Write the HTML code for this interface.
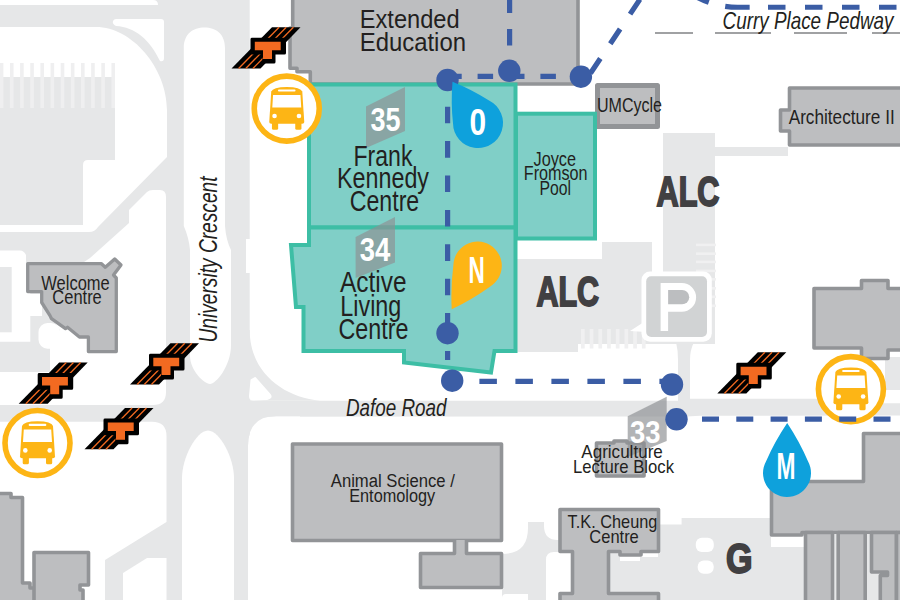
<!DOCTYPE html>
<html><head><meta charset="utf-8"><style>
html,body{margin:0;padding:0;background:#fff;width:900px;height:600px;overflow:hidden}
svg{display:block}
text{font-family:"Liberation Sans", sans-serif}
</style></head><body>
<svg width="900" height="600" viewBox="0 0 900 600">
<rect width="900" height="600" fill="#fff"/>
<g fill="#e6e7e8">
<rect x="0" y="0" width="250" height="600"/>
<path d="M249,400.7 L687,400.7 L687,398.7 L850,398.7 L852,403.3 L900,403.3 L900,415.4 L700,415.8 L687,416.5 L249,416.8 Z"/>
<rect x="885" y="357" width="15" height="33"/>
<path d="M517,259 L602,259 L602,242 L652,242 L652,272 L663,272 L663,133 L715,133 L715,344 L578,344 L578,352 L517,352 Z"/>
<rect x="715" y="147" width="73" height="9"/>
<path d="M676,342 L694,342 Q690,350 690,360 L690,401 L678,401 L678,360 Q678,350 676,342 Z"/>
<path d="M660,524.6 L681.6,524.6 L681.6,518 L771,518 L771,547 L805,547 L805,600 L660,600 Z"/>
<rect x="805" y="535" width="95" height="65"/>
<rect x="502" y="522" width="58" height="78"/>
<rect x="600" y="552" width="62" height="48"/>
</g>
<g fill="#fff">
<path d="M0,0 L153,0 Q158,0 158,5 L0,5 Z"/>
<path d="M0,27 L96,27 C132,27 167,68 167,110 L167,157 L98,227 Q95,232 89,232 L0,232 Z"/>
<path d="M116,19 L161,19 Q164,19 164,22 L164,58 Q164,62 160,61 C150,40 135,27 116,26 Q112,24 113,21 Q114,19 116,19 Z"/>
<path d="M183.8,48 C183.8,34 193,27.5 204.4,27.5 C216,27.5 225,34 225,48 L225,226 Q226,240 231,250 L231,345 C231,366 216,384 210,384 C204,384 190,370 190,356 L190,250 Q189,238 183.8,226 Z"/>
<path d="M41,262 L84,262 L90,258 L129,223 L129,210 L147,192 Q149,190 153,190 L160,190 Q166,190 166,197 L166,392 Q166,405 153,405 L0,405 L0,372 L50,372 L50,341.7 L60,330 L50,316 L41,300 Z"/>
<rect x="30" y="294" width="12" height="22"/>
<rect x="38.5" y="323" width="21.5" height="25.7" rx="9"/>
<rect x="246" y="239" width="4.5" height="34"/>
<path d="M0,250.5 L20,250.5 Q24,250.5 26,255 L26,267 L30.3,267 L30.3,341.7 L0,341.7 Z"/>
<rect x="249.7" y="0" width="60" height="400"/>
<path d="M0,421.7 L152,421.7 Q166.5,421.7 166.5,436 L166.5,522 L105,560 L105,600 L0,600 Z"/>
<path d="M123,573 L147,558 L166.5,558 L166.5,600 L123,600 Z"/>
<path d="M182,600 L182,478 C182,458 196,431 208,430.5 C220,431 234,458 234,478 L234,600 Z"/>
<path d="M248,600 L248,446 Q248,416.5 276,416.5 L300,416.5 L300,600 Z"/>
</g>
<g fill="#e6e7e8">
<path d="M245,330 L249.7,330 C249.7,372 283,397 320,400.7 L245,400.7 Z"/>
<path d="M246,416 L276,416 Q248,416.5 248,446 L246,446 Z"/>
<rect x="0" y="267" width="11.7" height="65.3"/>
</g>
<path d="M251.5,380 L255,378 L270,395 Q272,398 267,399 L253,399.5 Q250,399.5 250,396 Z" fill="#fff" stroke="#fff" stroke-width="2" stroke-linejoin="round"/>
<g fill="#e6e7e8">
<rect x="0" y="77" width="115" height="80"/>
<path d="M0,157 L115,157 L115,160 L88,160 Q83,160 83,165 L83,225 L0,225 Z"/>
</g>
<g fill="#efeff0"><rect x="-0.20" y="63" width="3.6" height="45"/><rect x="9.95" y="63" width="3.6" height="45"/><rect x="20.10" y="63" width="3.6" height="45"/><rect x="30.25" y="63" width="3.6" height="45"/><rect x="40.40" y="63" width="3.6" height="45"/><rect x="50.55" y="63" width="3.6" height="45"/><rect x="60.70" y="63" width="3.6" height="45"/><rect x="70.85" y="63" width="3.6" height="45"/><rect x="81.00" y="63" width="3.6" height="45"/><rect x="91.15" y="63" width="3.6" height="45"/><rect x="101.30" y="63" width="3.6" height="45"/><rect x="111.45" y="63" width="3.6" height="45"/></g>
<g fill="#fff">
<rect x="695.8" y="537.8" width="18" height="14.2" rx="6"/>
<rect x="697.7" y="560.5" width="16" height="13.2" rx="6"/>
<rect x="640" y="552" width="18" height="5"/>
<rect x="620" y="553" width="20" height="8"/>
<path d="M502,505 L528,505 L528,528 Q528,554 502,554 Z"/>
<path d="M544,505 L544,526 Q544,540 558,540 L560,540 L560,505 Z"/>
<path d="M546,600 L546,560 Q546,552 554,552 L560,552 L560,600 Z"/>
<path d="M502,600 L502,598 Q502,594 506,594 L528,594 L528,600 Z"/>
</g>
<g fill="#f0f0f1">
<rect x="696" y="243.6" width="20" height="2.6"/>
<rect x="696" y="252.4" width="20" height="2.6"/>
<rect x="696" y="260.6" width="20" height="2.6"/>
<rect x="696" y="269.6" width="20" height="2.6"/>
<rect x="696" y="278" width="20" height="2.6"/>
<rect x="696" y="287" width="20" height="2.6"/>
<rect x="696" y="295.5" width="20" height="2.6"/>
<rect x="696" y="304.5" width="20" height="2.6"/>
<rect x="581.0" y="329" width="3.7" height="19.5"/>
<rect x="589.7" y="329" width="3.7" height="19.5"/>
<rect x="598.4" y="329" width="3.7" height="19.5"/>
<rect x="607.1" y="329" width="3.7" height="19.5"/>
<rect x="615.8" y="329" width="3.7" height="19.5"/>
<rect x="624.5" y="329" width="3.7" height="19.5"/>
<rect x="633.2" y="329" width="3.7" height="19.5"/>
<rect x="641.9" y="329" width="3.7" height="19.5"/>
</g>
<path d="M630,331 L644,322 L646,332 Z" fill="#fff"/>
<g fill="#bdbec0" stroke="#929497" stroke-width="3.6" stroke-linejoin="round">
<path d="M292.7,-5 L292.7,28 L290,28 L290,68.3 L297,68.3 L297,71.8 L310.3,71.8 L310.3,84 L578,84 L578,-5 Z"/>
<rect x="597.5" y="85.5" width="60" height="41" stroke-width="5"/>
<path d="M789.5,88 L905,88 L905,145 L789.5,145 L789.5,131 L780.5,131 L780.5,110 L789.5,110 Z"/>
<path d="M27.7,263.7 L101.5,263.7 L105.3,267.3 L114.7,259 L121,265 L113.5,275 L116.3,278 L116.3,351.6 L88.4,351.6 L88.4,337 L79.4,337 L67.5,327.3 L65.5,328.6 L51.5,318.7 L50,315.6 L41.7,302.5 L41.7,291.6 L27.7,291.6 Z" stroke-width="3.3"/>
<path d="M814,288.5 L861.5,288.5 L861.5,280.5 L888,280.5 L888,288.5 L905,288.5 L905,350 L888,350 L888,358.5 L861.5,358.5 L861.5,348 L814,348 Z"/>
<path d="M863.5,433.5 L905,433.5 L905,532.5 L802,532.5 L802,535 L771.5,535 L771.5,481.5 L863.5,481.5 Z"/>
<rect x="292.5" y="444" width="209" height="96.5"/>
<path d="M454.5,540 L454.5,553.5 L420.5,553.5 L420.5,587.5 L501.5,587.5 L501.5,553.5 L466.5,553.5 L466.5,540"/>
<path d="M596.5,443 L614,443 L614,441 L627,441 L627,443 L644,443 L644,476 L596.5,476 Z"/>
<path d="M560,509.5 L658.5,509.5 L658.5,551.5 L641,551.5 L641,555 L620,555 L620,551.5 L608.5,551.5 L608.5,593.5 L658.5,593.5 L658.5,605 L560,605 L560,593.5 L572.5,593.5 L572.5,551.5 L560,551.5 Z"/>
<path d="M-5,493.5 L11,493.5 L11,497.5 L22.5,497.5 L22.5,583 L30,583 L30,588 L35,588 L35,605 L-5,605 Z"/>
<path d="M34,552.5 L88.5,552.5 L88.5,585 L80,585 L80,590 L83,590 L83,605 L34,605 Z"/>
<rect x="805.5" y="532.5" width="27" height="72"/>
<rect x="838.2" y="532.5" width="27" height="72"/>
<path d="M871.5,532.5 L871.5,572 L887.5,572 L887.5,575.5 L880.3,575.5 L880.3,605 L896.5,605 L896.5,532.5 Z"/>
<rect x="896.5" y="532.5" width="10" height="72"/>
</g>
<g fill="#80cfc7" stroke="#3dbea5" stroke-width="4" stroke-linejoin="miter">
<path d="M309,84.5 L515.5,84.5 L515.5,227.5 L309,227.5 Z"/>
<path d="M309,227.5 L515.5,227.5 L515.5,351 L494.5,351 L491,372.5 L404,362.5 L404,351 L303.5,351 L303.5,307 L296,307 L291,245 L309,245 Z"/>
<rect x="516" y="113.7" width="79" height="124.8"/>
</g>
<rect x="641.5" y="271.5" width="70.3" height="70.3" rx="8.5" fill="#fff"/>
<rect x="646.2" y="276.2" width="60.8" height="60.8" rx="5" fill="#d1d3d4"/>
<path d="M660.6,283 L681.7,283 A14.4,14.4 0 0 1 681.7,311.8 L668.1,311.8 L668.1,331 L660.6,331 Z" fill="#fff"/>
<path d="M668.1,290 L682.1,290 A7.15,7.15 0 0 1 682.1,304.3 L668.1,304.3 Z" fill="#bcbec0"/>
<polygon points="366,106.5 405,87 405,131 366,148" fill="#8e9093" fill-opacity="0.68"/><text x="370.5" y="131.25" font-size="33.72" font-weight="bold" font-style="normal" fill="#fff" text-anchor="start" textLength="30" lengthAdjust="spacingAndGlyphs">35</text>
<polygon points="355.6,237 395,217 395,262.5 355.6,278" fill="#8e9093" fill-opacity="0.68"/><text x="359.8" y="261.25" font-size="33.72" font-weight="bold" font-style="normal" fill="#fff" text-anchor="start" textLength="30.5" lengthAdjust="spacingAndGlyphs">34</text>
<polygon points="627.7,416.3 666.7,396.7 666.7,441 627.7,457" fill="#8e9093" fill-opacity="0.68"/><text x="629.9" y="442.5" font-size="31.10" font-weight="bold" font-style="normal" fill="#fff" text-anchor="start" textLength="30.5" lengthAdjust="spacingAndGlyphs">33</text>
<g transform="translate(286.75,108.6)"><circle r="32.5" fill="#fff" stroke="#fdb515" stroke-width="5.6"/><path d="M-15.5,-17 Q-14,-21.7 0,-21.7 Q14,-21.7 15.5,-17 L17.5,13.5 Q17.5,15.2 15.5,15.2 L-15.5,15.2 Q-17.5,15.2 -17.5,13.5 Z" fill="#fdb515"/><path d="M-13.7,-13.6 L13.7,-13.6 L14.5,-1.1 L-14.5,-1.1 Z" fill="#fff"/><rect x="-8.8" y="-19.2" width="17.6" height="2.1" rx="1" fill="#fff"/><circle cx="-12.2" cy="7.4" r="2.3" fill="#fff"/><circle cx="12.2" cy="7.4" r="2.3" fill="#fff"/><rect x="-14.8" y="13" width="6.2" height="8.2" rx="1.5" fill="#fdb515"/><rect x="8.5" y="13" width="6.2" height="8.2" rx="1.5" fill="#fdb515"/></g>
<g transform="translate(37.5,443)"><circle r="32.5" fill="#fff" stroke="#fdb515" stroke-width="5.6"/><path d="M-15.5,-17 Q-14,-21.7 0,-21.7 Q14,-21.7 15.5,-17 L17.5,13.5 Q17.5,15.2 15.5,15.2 L-15.5,15.2 Q-17.5,15.2 -17.5,13.5 Z" fill="#fdb515"/><path d="M-13.7,-13.6 L13.7,-13.6 L14.5,-1.1 L-14.5,-1.1 Z" fill="#fff"/><rect x="-8.8" y="-19.2" width="17.6" height="2.1" rx="1" fill="#fff"/><circle cx="-12.2" cy="7.4" r="2.3" fill="#fff"/><circle cx="12.2" cy="7.4" r="2.3" fill="#fff"/><rect x="-14.8" y="13" width="6.2" height="8.2" rx="1.5" fill="#fdb515"/><rect x="8.5" y="13" width="6.2" height="8.2" rx="1.5" fill="#fdb515"/></g>
<g transform="translate(850.9,389.1)"><circle r="32.5" fill="#fff" stroke="#fdb515" stroke-width="5.6"/><path d="M-15.5,-17 Q-14,-21.7 0,-21.7 Q14,-21.7 15.5,-17 L17.5,13.5 Q17.5,15.2 15.5,15.2 L-15.5,15.2 Q-17.5,15.2 -17.5,13.5 Z" fill="#fdb515"/><path d="M-13.7,-13.6 L13.7,-13.6 L14.5,-1.1 L-14.5,-1.1 Z" fill="#fff"/><rect x="-8.8" y="-19.2" width="17.6" height="2.1" rx="1" fill="#fff"/><circle cx="-12.2" cy="7.4" r="2.3" fill="#fff"/><circle cx="12.2" cy="7.4" r="2.3" fill="#fff"/><rect x="-14.8" y="13" width="6.2" height="8.2" rx="1.5" fill="#fdb515"/><rect x="8.5" y="13" width="6.2" height="8.2" rx="1.5" fill="#fdb515"/></g>
<g stroke="#3b5da5" stroke-width="5.2" fill="none">
<path d="M447.6,80 L447.6,333" stroke-dasharray="16.6 17.8" stroke-dashoffset="-26.7"/>
<path d="M447.6,333 L447.6,372" stroke-dasharray="0 18 9 100"/>
<path d="M446.2,76.4 L581,76.4" stroke-dasharray="15.5 15.9"/>
<path d="M509.6,-3.4 L509.6,70.8" stroke-dasharray="16.5 16"/>
<path d="M583.5,83.7 L646.2,-10" stroke-dasharray="17.7 17.9" stroke-dashoffset="23.05"/>
<path d="M683,-12 A87,87 0 0 0 737.6,7.25 L760,7.25" stroke-dasharray="0 16 13.6 16.9 24.5 100"/>
<path d="M768,7.25 L905,7.25" stroke-dasharray="17.5 19.5"/>
<path d="M452,381.4 L672,381.4" stroke-dasharray="17.5 18.5" stroke-dashoffset="-27.4"/>
<path d="M677,419.2 L905,419.2" stroke-dasharray="17 17.3" stroke-dashoffset="-25"/>
</g>
<g fill="#3b5da5">
<circle cx="447.5" cy="80" r="11.2"/>
<circle cx="509.3" cy="70.8" r="11.2"/>
<circle cx="580.9" cy="76.7" r="11.2"/>
<circle cx="447.5" cy="333.2" r="11.2"/>
<circle cx="452.2" cy="380.7" r="11.2"/>
<circle cx="672" cy="384.5" r="11.2"/>
<circle cx="676.5" cy="419.3" r="11.2"/>
</g>
<path d="M452.50,81.70 Q471.90,89.47 489.47,100.79 A25,25 0 1 1 453.00,123.30 Q450.75,102.52 452.50,81.70 Z" fill="#0ea1dc"/>
<path d="M451.70,309.20 Q450.56,286.95 453.42,264.86 A24.2,24.2 0 1 1 489.91,286.64 Q471.82,299.64 451.70,309.20 Z" fill="#fdb515"/>
<path d="M787.20,423.00 Q799.41,441.33 808.10,461.56 A24,24 0 1 1 765.99,461.40 Q774.85,441.23 787.20,423.00 Z" fill="#0ea1dc"/>
<text x="469.6" y="134.6" font-size="37.65" font-weight="bold" font-style="normal" fill="#fff" text-anchor="start" textLength="16.6" lengthAdjust="spacingAndGlyphs">0</text>
<text x="468.5" y="283.3" font-size="37.50" font-weight="bold" font-style="normal" fill="#fff" text-anchor="start" textLength="16.3" lengthAdjust="spacingAndGlyphs">N</text>
<text x="776.5" y="478.7" font-size="37.35" font-weight="bold" font-style="normal" fill="#fff" text-anchor="start" textLength="19" lengthAdjust="spacingAndGlyphs">M</text>
<g transform="translate(272,27.2)"><polygon points="0,0 28.5,0 -11.5,41.3 -40.5,41.3" fill="#000"/><line x1="7.1" y1="0" x2="-33.4" y2="41.3" stroke="#f26a21" stroke-width="1.3"/><line x1="14.25" y1="0" x2="-26.25" y2="41.3" stroke="#f26a21" stroke-width="1.3"/><line x1="21.4" y1="0" x2="-19.1" y2="41.3" stroke="#f26a21" stroke-width="1.3"/><path d="M-21.5,12 Q-21.5,10.6 -20,10.6 L12.5,10.6 Q14,10.6 14,12 L14,25.8 Q14,27.3 12.5,27.3 L3.5,27.3 L3.5,34.8 Q3.5,36.3 2,36.3 L-8,36.3 Q-9.5,36.3 -9.5,34.8 L-9.5,27.3 L-20,27.3 Q-21.5,27.3 -21.5,25.8 Z" fill="#000"/><path d="M-17.2,14.6 L8.7,14.6 L8.7,23 L0,23 L0,31.8 L-9,31.8 L-9,23 L-17.2,23 Z" fill="#f26a21"/></g>
<g transform="translate(170.5,343.2)"><polygon points="0,0 28.5,0 -11.5,41.3 -40.5,41.3" fill="#000"/><line x1="7.1" y1="0" x2="-33.4" y2="41.3" stroke="#f26a21" stroke-width="1.3"/><line x1="14.25" y1="0" x2="-26.25" y2="41.3" stroke="#f26a21" stroke-width="1.3"/><line x1="21.4" y1="0" x2="-19.1" y2="41.3" stroke="#f26a21" stroke-width="1.3"/><path d="M-21.5,12 Q-21.5,10.6 -20,10.6 L12.5,10.6 Q14,10.6 14,12 L14,25.8 Q14,27.3 12.5,27.3 L3.5,27.3 L3.5,34.8 Q3.5,36.3 2,36.3 L-8,36.3 Q-9.5,36.3 -9.5,34.8 L-9.5,27.3 L-20,27.3 Q-21.5,27.3 -21.5,25.8 Z" fill="#000"/><path d="M-17.2,14.6 L8.7,14.6 L8.7,23 L0,23 L0,31.8 L-9,31.8 L-9,23 L-17.2,23 Z" fill="#f26a21"/></g>
<g transform="translate(59.2,362.5)"><polygon points="0,0 28.5,0 -11.5,41.3 -40.5,41.3" fill="#000"/><line x1="7.1" y1="0" x2="-33.4" y2="41.3" stroke="#f26a21" stroke-width="1.3"/><line x1="14.25" y1="0" x2="-26.25" y2="41.3" stroke="#f26a21" stroke-width="1.3"/><line x1="21.4" y1="0" x2="-19.1" y2="41.3" stroke="#f26a21" stroke-width="1.3"/><path d="M-21.5,12 Q-21.5,10.6 -20,10.6 L12.5,10.6 Q14,10.6 14,12 L14,25.8 Q14,27.3 12.5,27.3 L3.5,27.3 L3.5,34.8 Q3.5,36.3 2,36.3 L-8,36.3 Q-9.5,36.3 -9.5,34.8 L-9.5,27.3 L-20,27.3 Q-21.5,27.3 -21.5,25.8 Z" fill="#000"/><path d="M-17.2,14.6 L8.7,14.6 L8.7,23 L0,23 L0,31.8 L-9,31.8 L-9,23 L-17.2,23 Z" fill="#f26a21"/></g>
<g transform="translate(125,408)"><polygon points="0,0 28.5,0 -11.5,41.3 -40.5,41.3" fill="#000"/><line x1="7.1" y1="0" x2="-33.4" y2="41.3" stroke="#f26a21" stroke-width="1.3"/><line x1="14.25" y1="0" x2="-26.25" y2="41.3" stroke="#f26a21" stroke-width="1.3"/><line x1="21.4" y1="0" x2="-19.1" y2="41.3" stroke="#f26a21" stroke-width="1.3"/><path d="M-21.5,12 Q-21.5,10.6 -20,10.6 L12.5,10.6 Q14,10.6 14,12 L14,25.8 Q14,27.3 12.5,27.3 L3.5,27.3 L3.5,34.8 Q3.5,36.3 2,36.3 L-8,36.3 Q-9.5,36.3 -9.5,34.8 L-9.5,27.3 L-20,27.3 Q-21.5,27.3 -21.5,25.8 Z" fill="#000"/><path d="M-17.2,14.6 L8.7,14.6 L8.7,23 L0,23 L0,31.8 L-9,31.8 L-9,23 L-17.2,23 Z" fill="#f26a21"/></g>
<g transform="translate(757.8,352.2)"><polygon points="0,0 28.5,0 -11.5,41.3 -40.5,41.3" fill="#000"/><line x1="7.1" y1="0" x2="-33.4" y2="41.3" stroke="#f26a21" stroke-width="1.3"/><line x1="14.25" y1="0" x2="-26.25" y2="41.3" stroke="#f26a21" stroke-width="1.3"/><line x1="21.4" y1="0" x2="-19.1" y2="41.3" stroke="#f26a21" stroke-width="1.3"/><path d="M-21.5,12 Q-21.5,10.6 -20,10.6 L12.5,10.6 Q14,10.6 14,12 L14,25.8 Q14,27.3 12.5,27.3 L3.5,27.3 L3.5,34.8 Q3.5,36.3 2,36.3 L-8,36.3 Q-9.5,36.3 -9.5,34.8 L-9.5,27.3 L-20,27.3 Q-21.5,27.3 -21.5,25.8 Z" fill="#000"/><path d="M-17.2,14.6 L8.7,14.6 L8.7,23 L0,23 L0,31.8 L-9,31.8 L-9,23 L-17.2,23 Z" fill="#f26a21"/></g>
<g stroke="#808285" stroke-width="1.5">
<line x1="655" y1="33" x2="693" y2="33"/>
<line x1="715" y1="33" x2="771" y2="33"/>
<line x1="794" y1="33" x2="847" y2="33"/>
<line x1="872" y1="33" x2="900" y2="33"/>
</g>
<g font-family='"Liberation Sans", sans-serif'>
<text x="359.7" y="27.5" font-size="26.60" font-weight="normal" font-style="normal" fill="#231f20" text-anchor="start" textLength="100" lengthAdjust="spacingAndGlyphs">Extended</text>
<text x="359.7" y="50.8" font-size="26.60" font-weight="normal" font-style="normal" fill="#231f20" text-anchor="start" textLength="106.3" lengthAdjust="spacingAndGlyphs">Education</text>
<text x="353.5" y="165.6" font-size="29.07" font-weight="normal" font-style="normal" fill="#231f20" text-anchor="start" textLength="59" lengthAdjust="spacingAndGlyphs">Frank</text>
<text x="337" y="188.1" font-size="29.07" font-weight="normal" font-style="normal" fill="#231f20" text-anchor="start" textLength="92" lengthAdjust="spacingAndGlyphs">Kennedy</text>
<text x="349.8" y="211.25" font-size="29.07" font-weight="normal" font-style="normal" fill="#231f20" text-anchor="start" textLength="69.4" lengthAdjust="spacingAndGlyphs">Centre</text>
<text x="340" y="292.3" font-size="28.78" font-weight="normal" font-style="normal" fill="#231f20" text-anchor="start" textLength="66.5" lengthAdjust="spacingAndGlyphs">Active</text>
<text x="340.3" y="315.6" font-size="28.78" font-weight="normal" font-style="normal" fill="#231f20" text-anchor="start" textLength="61" lengthAdjust="spacingAndGlyphs">Living</text>
<text x="338.5" y="339.4" font-size="28.78" font-weight="normal" font-style="normal" fill="#231f20" text-anchor="start" textLength="70" lengthAdjust="spacingAndGlyphs">Centre</text>
<text x="533.5" y="165.6" font-size="19.91" font-weight="normal" font-style="normal" fill="#231f20" text-anchor="start" textLength="42.5" lengthAdjust="spacingAndGlyphs">Joyce</text>
<text x="523.8" y="179.8" font-size="19.91" font-weight="normal" font-style="normal" fill="#231f20" text-anchor="start" textLength="63.8" lengthAdjust="spacingAndGlyphs">Fromson</text>
<text x="539.5" y="194.5" font-size="19.91" font-weight="normal" font-style="normal" fill="#231f20" text-anchor="start" textLength="31.5" lengthAdjust="spacingAndGlyphs">Pool</text>
<text x="597" y="112.1" font-size="20.06" font-weight="normal" font-style="normal" fill="#231f20" text-anchor="start" textLength="65" lengthAdjust="spacingAndGlyphs">UMCycle</text>
<text x="788.7" y="124" font-size="19.48" font-weight="normal" font-style="normal" fill="#231f20" text-anchor="start" textLength="106" lengthAdjust="spacingAndGlyphs">Architecture II</text>
<text x="656.5" y="205.6" font-size="42.88" font-weight="bold" font-style="normal" fill="#414042" text-anchor="start" textLength="63" lengthAdjust="spacingAndGlyphs" stroke="#414042" stroke-width="2">ALC</text>
<text x="536.5" y="306.2" font-size="43.02" font-weight="bold" font-style="normal" fill="#414042" text-anchor="start" textLength="62.5" lengthAdjust="spacingAndGlyphs" stroke="#414042" stroke-width="2">ALC</text>
<text x="41.3" y="289.6" font-size="19.77" font-weight="normal" font-style="normal" fill="#231f20" text-anchor="start" textLength="68.5" lengthAdjust="spacingAndGlyphs">Welcome</text>
<text x="52.3" y="304" font-size="19.77" font-weight="normal" font-style="normal" fill="#231f20" text-anchor="start" textLength="49.5" lengthAdjust="spacingAndGlyphs">Centre</text>
<text x="346" y="416" font-size="24.27" font-weight="normal" font-style="italic" fill="#231f20" text-anchor="start" textLength="100.5" lengthAdjust="spacingAndGlyphs">Dafoe Road</text>
<text x="330.8" y="486.8" font-size="19.19" font-weight="normal" font-style="normal" fill="#231f20" text-anchor="start" textLength="124" lengthAdjust="spacingAndGlyphs">Animal Science /</text>
<text x="349.2" y="502.3" font-size="19.19" font-weight="normal" font-style="normal" fill="#231f20" text-anchor="start" textLength="86" lengthAdjust="spacingAndGlyphs">Entomology</text>
<text x="581.3" y="457.5" font-size="17.73" font-weight="normal" font-style="normal" fill="#231f20" text-anchor="start" textLength="81.5" lengthAdjust="spacingAndGlyphs">Agriculture</text>
<text x="573" y="473.25" font-size="18.31" font-weight="normal" font-style="normal" fill="#231f20" text-anchor="start" textLength="101" lengthAdjust="spacingAndGlyphs">Lecture Block</text>
<text x="567.6" y="527.5" font-size="18.17" font-weight="normal" font-style="normal" fill="#231f20" text-anchor="start" textLength="89.8" lengthAdjust="spacingAndGlyphs">T.K. Cheung</text>
<text x="589.3" y="542.5" font-size="18.17" font-weight="normal" font-style="normal" fill="#231f20" text-anchor="start" textLength="49.5" lengthAdjust="spacingAndGlyphs">Centre</text>
<text x="726" y="573.1" font-size="42.88" font-weight="bold" font-style="normal" fill="#414042" text-anchor="start" textLength="26.5" lengthAdjust="spacingAndGlyphs" stroke="#414042" stroke-width="2">G</text>
<text x="722.5" y="29" font-size="23.98" font-weight="normal" font-style="italic" fill="#231f20" text-anchor="start" textLength="171" lengthAdjust="spacingAndGlyphs">Curry Place Pedway</text>
<text x="0" y="0" font-size="26.16" font-weight="normal" font-style="italic" fill="#231f20" text-anchor="start" textLength="166" lengthAdjust="spacingAndGlyphs" transform="translate(216.5,342.5) rotate(-90)">University Crescent</text>
</g>
</svg>
</body></html>
